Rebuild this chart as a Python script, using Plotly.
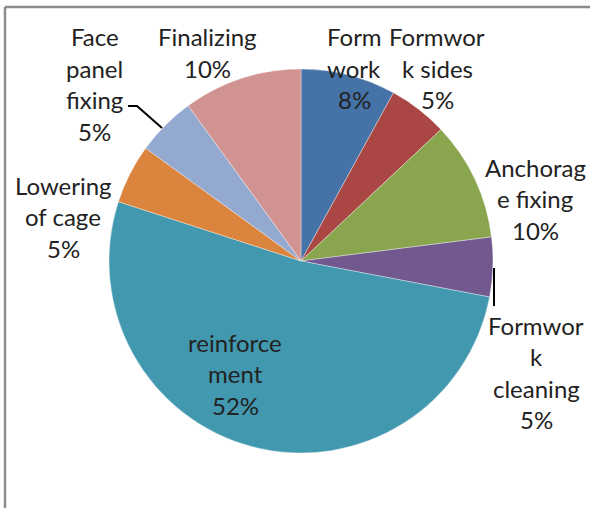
import plotly.graph_objects as go

categories = ["Form work", "Formwork sides", "Anchorage fixing", "Formwork cleaning",
              "reinforcement", "Lowering of cage", "Face panel fixing", "Finalizing"]
percent_values = [8, 5, 10, 5, 52, 5, 5, 10]
label_lines = [
    ["Form", "work", "8%"],
    ["Formwor", "k sides", "5%"],
    ["Anchorag", "e fixing", "10%"],
    ["Formwor", "k", "cleaning", "5%"],
    ["reinforce", "ment", "52%"],
    ["Lowering", "of cage", "5%"],
    ["Face", "panel", "fixing", "5%"],
    ["Finalizing", "10%"],
]
colors = ["#4572A7", "#AA4643", "#89A54E", "#71588F",
          "#4198AF", "#DB843D", "#93A9CF", "#D19392"]

W, H = 590, 508
# label placement (pixel centre x, first-line y) - layout only
label_pos = [
    (354, 37), (437, 37), (535, 167), (536, 325),
    (235, 342), (63, 185), (95, 37), (207, 37),
]
line_gap = 31.5

cx, cy, r = 301, 261, 192

fig = go.Figure(go.Pie(
    labels=categories,
    values=percent_values,
    sort=False,
    direction="clockwise",
    rotation=0,
    marker=dict(colors=colors, line=dict(color="rgba(255,255,255,0.6)", width=0.6)),
    textinfo="none",
    hoverinfo="label+percent",
    showlegend=False,
    domain=dict(x=[(cx - r) / W, (cx + r) / W],
                y=[(H - cy - r) / H, (H - cy + r) / H]),
))

annotations = []
for lines, (px, py) in zip(label_lines, label_pos):
    for i, t in enumerate(lines):
        annotations.append(dict(
            text=t, x=px / W, y=1 - (py + i * line_gap) / H,
            xref="paper", yref="paper", showarrow=False,
            xanchor="center", yanchor="middle",
            font=dict(family="Lato, Open Sans, sans-serif", size=24, color="#222222"),
        ))

shapes = [
    # chart frame (top and left edges)
    dict(type="line", xref="paper", yref="paper", x0=5 / W, x1=1.01, y0=1 - 7 / H, y1=1 - 7 / H,
         line=dict(color="#8c8c8c", width=2.5)),
    dict(type="line", xref="paper", yref="paper", x0=5 / W, x1=5 / W, y0=1 - 7 / H, y1=-0.01,
         line=dict(color="#8c8c8c", width=2.5)),
    # leader lines
    dict(type="path", xref="paper", yref="paper",
         path=f"M {128/W},{1-106/H} L {137/W},{1-106/H} L {162/W},{1-128/H}",
         line=dict(color="#000000", width=2)),
    dict(type="line", xref="paper", yref="paper", x0=494 / W, x1=494 / W,
         y0=1 - 268 / H, y1=1 - 306 / H, line=dict(color="#000000", width=2)),
]

fig.update_layout(
    width=W, height=H,
    margin=dict(l=0, r=0, t=0, b=0),
    paper_bgcolor="white", plot_bgcolor="white",
    annotations=annotations, shapes=shapes,
)

fig.write_html("out.html", config={"displayModeBar": False},
               post_script="document.body.style.margin='0';document.body.style.overflow='hidden';")
